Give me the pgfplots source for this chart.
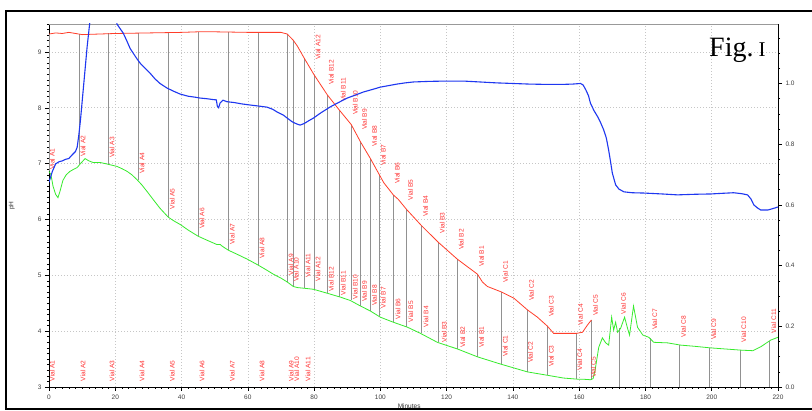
\documentclass[border=0pt]{standalone}
\usepackage{fontspec}
\newfontfamily\arial{Liberation Sans}
\newfontfamily\serifTNR{Liberation Serif}
\usepackage{pgfplots}
\pgfplotsset{compat=1.18}
\usepackage{pgfplotstable}
\definecolor{cred}{RGB}{255,62,42}
\definecolor{cblue}{RGB}{30,55,240}
\definecolor{cgreen}{RGB}{55,235,45}
\definecolor{lred}{RGB}{255,50,50}
\definecolor{vgray}{RGB}{145,145,145}

\pgfplotstableread{
t y
0 9.32
2 9.34
4 9.33
6 9.35
8 9.33
10 9.31
15 9.32
20 9.33
30 9.34
40 9.35
45 9.36
50 9.36
60 9.35
70 9.35
71.9 9.32
73.7 9.21
75 9.10
77 8.89
80 8.59
84 8.23
87.6 7.96
91.2 7.70
94 7.39
97 7.09
99.7 6.80
101 6.66
103.9 6.44
105.4 6.36
107.9 6.18
112.4 5.89
117.5 5.59
123.2 5.29
129.3 5.02
130.8 4.88
132.3 4.80
136.6 4.70
140.3 4.59
144.4 4.38
147.4 4.25
150.4 4.09
152.3 3.96
159.2 3.96
161 3.98
162.5 4.11
163.7 4.20
}\redtab

\pgfplotstableread{
t y
0 6.86
0.6 6.80
1.2 6.60
2 6.45
2.7 6.39
3.3 6.50
4.2 6.70
5.2 6.80
6.3 6.86
7.5 6.90
8.5 6.93
9.5 7.00
10.9 7.09
12 7.05
13.3 7.02
15.4 7.02
17 7.00
18.4 6.98
20.5 6.95
22 6.91
23.6 6.86
25 6.80
26.6 6.71
28 6.62
29.6 6.50
31.4 6.36
33.5 6.20
36 6.04
37.8 5.97
39.6 5.91
42 5.81
45 5.70
48 5.62
50.7 5.55
51.7 5.55
52.3 5.52
54.1 5.45
57 5.37
59.8 5.29
63.2 5.18
65.5 5.10
67.7 5.02
70 4.95
71.9 4.88
73.7 4.80
75 4.78
76.7 4.77
79.8 4.75
83.9 4.68
87.9 4.61
90.9 4.55
94 4.45
97 4.36
100 4.25
103.9 4.16
108.2 4.07
112.1 3.96
117.2 3.80
123.3 3.68
129.3 3.54
136.3 3.41
144.4 3.27
150.4 3.21
155.3 3.16
159.5 3.14
161 3.14
163.4 3.13
164.2 3.15
164.8 3.30
165.9 3.71
167 3.88
168 3.79
168.9 3.75
169.8 4.25
170.4 4.02
171 4.16
171.6 3.98
172.5 4.05
173.7 4.25
174.6 4.05
175.2 3.93
176.4 4.45
177.6 4.07
179.2 3.93
181 3.89
182.5 3.80
186.7 3.79
190.6 3.75
194.6 3.73
199.7 3.70
208.8 3.66
212.4 3.65
214.8 3.72
217.8 3.84
220 3.89
}\greentab

\pgfplotstableread{
t y
0 0.675
1 0.710
2 0.735
3 0.742
4 0.745
5 0.750
6 0.753
7 0.765
8 0.776
8.5 0.790
9 0.830
9.5 0.880
10 0.940
10.5 1.000
11 1.060
11.5 1.120
12 1.170
12.4 1.210
13 1.260
20 1.260
20.5 1.196
21.5 1.180
22.4 1.166
23.5 1.140
24.5 1.115
25.4 1.100
26.5 1.082
27.5 1.067
29 1.050
30.5 1.034
32 1.015
33.5 1.000
35.6 0.985
37.5 0.975
39.6 0.965
42 0.958
44 0.955
45.6 0.952
47.5 0.950
49.5 0.947
50.5 0.946
50.8 0.925
51.2 0.920
51.6 0.935
52.5 0.945
53.7 0.940
56 0.937
58 0.933
60.7 0.929
63 0.926
65.8 0.922
67.5 0.915
69 0.905
70.7 0.896
72 0.885
73.5 0.873
74.9 0.866
75.8 0.863
77 0.868
78.5 0.878
79.8 0.886
82 0.903
84.9 0.923
87.5 0.938
90 0.952
92.5 0.962
94.9 0.972
97.5 0.980
100 0.988
102.5 0.993
105 0.998
107.5 1.002
110 1.005
115 1.007
120 1.008
125 1.008
130 1.005
135 1.002
140 1.000
145 0.998
150 0.997
155 0.997
158 0.998
160.4 1.000
161.2 0.995
162 0.979
162.8 0.960
163.4 0.935
164.5 0.910
165.6 0.890
166.5 0.870
167.4 0.847
168.2 0.820
168.9 0.780
169.5 0.740
170 0.705
171 0.666
172 0.652
173.5 0.643
176 0.640
179.5 0.639
185 0.636
189.7 0.633
195 0.635
199.7 0.636
203 0.638
206.6 0.640
209 0.637
210.8 0.633
211.8 0.620
212.7 0.600
213.8 0.590
214.8 0.583
216.9 0.583
218.5 0.588
220 0.593
}\bluetab

\pgfplotstableread[col sep=comma]{
x,y,lab
1.0,3.1,Vial A1
10.3,3.1,Vial A2
19.0,3.1,Vial A3
28.1,3.1,Vial A4
37.2,3.1,Vial A5
46.2,3.1,Vial A6
55.3,3.1,Vial A7
64.3,3.1,Vial A8
73.1,3.1,Vial A9
74.8,3.1,Vial A10
78.2,3.1,Vial A11
81.2,8.86,Vial A12
85.2,8.41,Vial B12
88.8,8.10,Vial B11
92.4,7.87,Vial B10
95.2,7.60,Vial B9
98.2,7.30,Vial B8
100.9,6.96,Vial B7
105.1,6.64,Vial B6
109.1,6.34,Vial B5
113.6,6.05,Vial B4
118.7,5.75,Vial B3
124.4,5.45,Vial B2
130.5,5.15,Vial B1
137.8,4.87,Vial C1
145.6,4.54,Vial C2
151.6,4.25,Vial C3
160.4,4.10,Vial C4
164.9,4.27,Vial C5
}\redlab

\pgfplotstableread[col sep=comma]{
x,y,lab
1.0,6.89,Vial A1
10.3,7.12,Vial A2
19.0,7.10,Vial A3
28.1,6.82,Vial A4
37.2,6.18,Vial A5
46.2,5.83,Vial A6
55.3,5.55,Vial A7
64.3,5.30,Vial A8
73.0,5.00,Vial A9
74.6,4.88,Vial A10
78.2,4.96,Vial A11
81.2,4.89,Vial A12
85.2,4.71,Vial B12
88.8,4.64,Vial B11
92.4,4.57,Vial B10
95.2,4.52,Vial B9
98.2,4.45,Vial B8
100.9,4.41,Vial B7
105.3,4.21,Vial B6
109.2,4.16,Vial B5
113.8,4.07,Vial B4
119.3,3.80,Vial B3
124.9,3.70,Vial B2
130.5,3.70,Vial B1
137.7,3.54,Vial C1
145.3,3.43,Vial C2
151.6,3.36,Vial C3
160.2,3.30,Vial C4
164.3,3.16,Vial C5
173.4,4.30,Vial C6
182.8,4.02,Vial C7
191.5,3.89,Vial C8
200.6,3.84,Vial C9
209.7,3.80,Vial C10
218.7,3.96,Vial C11
}\greenlab

\begin{document}
\begin{tikzpicture}[x=1pt,y=1pt]
\path[use as bounding box, fill=white] (0,0) rectangle (812,411);
\draw[line width=2.2pt] (6,2) rectangle (830,400);

\begin{axis}[
  scale only axis, width=729pt, height=363pt,
  at={(49pt,24pt)}, anchor=south west,
  xmin=0, xmax=220, ymin=3, ymax=9.5,
  axis x line*=bottom, axis y line*=left,
  axis line style={black, line width=0.8pt, -},
  xtick={0,20,...,220}, ytick={3,4,...,10},
  minor x tick num=9, minor y tick num=9,
  tick align=outside, major tick length=4pt, minor tick length=2pt,
  tick style={black, line width=0.5pt},
  grid=major, major grid style={dash pattern=on 1pt off 2pt, gray!45, line width=0.6pt},
  /pgf/number format/assume math mode=true,
  tick label style={font=\arial\fontsize{6.5}{7}\selectfont, text=black!75},
  xlabel={Minutes}, ylabel={pH},
  label style={font=\arial\fontsize{6.5}{7}\selectfont, text=black!80},
  xlabel style={at={(axis description cs:0.494,-0.052)}, anchor=center},
  ylabel style={at={(axis description cs:-0.051,0.5)}, anchor=center},
  unbounded coords=jump,
  clip=true,
]
\addplot[vgray, line width=0.6pt] coordinates {
(0.2,9.32)(0.2,6.86)(0.2,nan)
(9.1,9.32)(9.1,7.0)(9.1,nan)
(17.8,9.33)(17.8,6.98)(17.8,nan)
(26.9,9.34)(26.9,6.7)(26.9,nan)
(36,9.35)(36,6.04)(36,nan)
(45,9.35)(45,5.7)(45,nan)
(54.1,9.36)(54.1,5.45)(54.1,nan)
(63.1,9.35)(63.1,5.18)(63.1,nan)
(71.9,9.32)(71.9,4.88)(71.9,nan)
(73.6,9.22)(73.6,4.8)(73.6,nan)
(77,8.89)(77,4.77)(77,nan)
(80,8.59)(80,4.75)(80,nan)
(84,8.23)(84,4.68)(84,nan)
(87.6,7.96)(87.6,4.62)(87.6,nan)
(91.2,7.70)(91.2,4.55)(91.2,nan)
(94,7.39)(94,4.45)(94,nan)
(97,7.09)(97,4.36)(97,nan)
(99.7,6.80)(99.7,4.27)(99.7,nan)
(103.9,6.44)(103.9,4.16)(103.9,nan)
(107.9,6.18)(107.9,4.07)(107.9,nan)
(112.4,5.89)(112.4,3.96)(112.4,nan)
(117.5,5.59)(117.5,3.8)(117.5,nan)
(123.2,5.29)(123.2,3.68)(123.2,nan)
(129.3,5.02)(129.3,3.54)(129.3,nan)
(136.6,4.70)(136.6,3.41)(136.6,nan)
(144.4,4.38)(144.4,3.27)(144.4,nan)
(150.4,4.09)(150.4,3.21)(150.4,nan)
(159.2,3.96)(159.2,3.15)(159.2,nan)
(163.7,4.2)(163.7,3.13)(163.7,nan)
(172.2,4.05)(172.2,3)(172.2,nan)
(181.6,3.87)(181.6,3)(181.6,nan)
(190.3,3.75)(190.3,3)(190.3,nan)
(199.4,3.70)(199.4,3)(199.4,nan)
(208.5,3.66)(208.5,3)(208.5,nan)
(217.5,3.82)(217.5,3)
};
\addplot[cgreen, line width=0.8pt] table[x=t,y=y] {\greentab};
\addplot[cred, line width=0.8pt] table[x=t,y=y] {\redtab};
\addplot[only marks, mark=none, nodes near coords, point meta=explicit symbolic,
  nodes near coords style={rotate=90, anchor=west, inner sep=0pt,
  font=\arial\fontsize{6.6}{7}\selectfont, text=lred}]
  table[x=x,y=y,meta=lab] {\redlab};
\addplot[only marks, mark=none, nodes near coords, point meta=explicit symbolic,
  nodes near coords style={rotate=90, anchor=west, inner sep=0pt,
  font=\arial\fontsize{6.6}{7}\selectfont, text=lred}]
  table[x=x,y=y,meta=lab] {\greenlab};
\draw[gray!80, line width=0.6pt] (rel axis cs:0,1) -- (rel axis cs:1,1);
\end{axis}

\begin{axis}[
  scale only axis, width=729pt, height=363pt,
  at={(49pt,24pt)}, anchor=south west,
  xmin=0, xmax=220, ymin=0, ymax=1.196,
  axis x line=none, axis y line*=right,
  axis line style={black, line width=0.8pt, -},
  ytick={0,0.2,0.4,0.6,0.8,1.0,1.2},
  minor y tick num=3,
  tick align=outside, major tick length=4pt, minor tick length=2pt,
  tick style={black, line width=0.5pt},
  /pgf/number format/.cd, fixed, fixed zerofill, precision=1, assume math mode=true,
  /pgfplots/.cd,
  tick label style={font=\arial\fontsize{6.5}{7}\selectfont, text=black!75},
  clip=true,
]
\addplot[cblue, line width=1.1pt] table[x=t,y=y] {\bluetab};
\end{axis}

\node[anchor=base west, inner sep=0pt] at (709,354) {\serifTNR\fontsize{28}{28}\selectfont Fig.\hspace{5pt}{\fontsize{21}{21}\selectfont I}};
\end{tikzpicture}
\end{document}
